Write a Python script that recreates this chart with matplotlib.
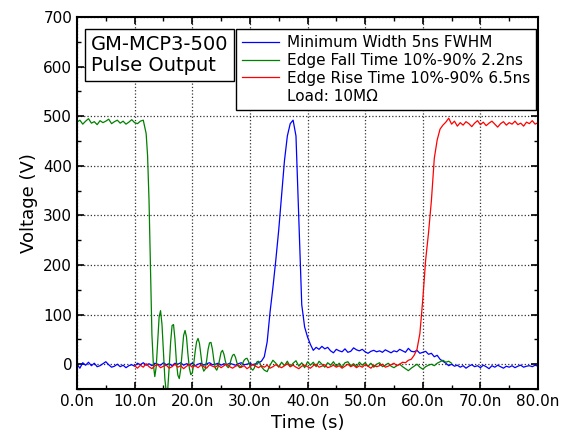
import numpy as np
import matplotlib
matplotlib.use("Agg")
import matplotlib.pyplot as plt
from matplotlib.lines import Line2D
from matplotlib.ticker import MultipleLocator, FuncFormatter

# --- data (time in ns, voltage in V) ---
# blue: minimum width pulse, sampled every 0.5 ns from 0 ns
blue_v = [0, -8, 3, -2, 4, -3, 2, -5, -3, 1, 5, -1, -6, -4, 0, -5, -2, -7, -3, -1, -4,
          2, -1, 3, -2, 1, -3, 2, 0, -2, 3, -1, 1, -3, 2, 0, 3, -2, 1, -1, 2,
          -3, 0, 2, -2, 1, 3, -1, 0, 2, -2, 1, -1, 2, 0, -2, 1, 3, -1, 0, 2,
          -1, 1, 3, 6,
          15, 45, 105, 155, 210, 270, 340, 410, 460, 485, 492, 460, 290, 120, 75, 55,
          40, 28, 34, 30, 36, 31, 34, 27, 23, 30, 27, 25, 31, 24, 26, 33, 29, 27, 30, 25,
          22, 26, 28, 25, 27, 24, 29, 26, 23, 27, 25, 30, 27, 24, 32, 26, 25, 28, 22, 24,
          26, 20, 22, 15, 18, 10, 6, 2, -3, 0,
          -4, -2, -6, -3, -8, -4, -1, -5, -3, -7, -2, -5, -9, -3, -6,
          -2, -5, -8, -4, -6, -3, -7, -4, -2, -6, -4, -3, -5, -2, -4]

# green: falling edge, plateau (0.5 ns step), ringing (0.25 ns step), tail (0.5 ns step)
green_plateau = [488, 492, 484, 490, 495, 486, 489, 483, 491, 487, 490, 494,
                 485, 489, 492, 486, 490, 484, 488, 493, 487, 485, 490, 492]
green_ring = [465, 420, 330, 190, 60, 0, -25, -5, 45, 95, 108, 80, 25, -30, -57, -50,
              -5, 45, 78, 80, 50, 5, -22, -29, -10, 25, 58, 68, 55, 20, -8, -21,
              -18, 0, 25, 45, 52, 42, 18, -5, -14, -10, 8, 30, 43, 44, 30, 8,
              -8, -12, -5, 10, 24, 28, 20, 6, -4, -7, -2, 10, 18, 20, 14, 3,
              -4, -7, -6, 2, 8, 11, 12, 6, -3, -9, -12, -8, 0, 5, 6, 2, -5]
green_tail = [-12, -15, -2, 8, 2, -6, 4, -3, 6, -5, 2, 7, -4, 3, -7, 5, -2, 4, -5, 6,
              0, -6, 3, -2, 5, -4, 2, -6, 3, 5, -3, 1, -5, 4, -2, 3, -4, 2, -6, 0,
              3, -5, -2, 2, -4, -7, -3, 0, -5, -9, -13, -8, -4, 0, -6, -10, -5, -2, 0, -3,
              2, 5, 8, 4, 6, 2]

# red: rising edge, sampled every 0.5 ns from 10 ns
red_v = [-3, -8, -2, -6, 1, -5, -9, -3, -1, -7, -4, -2, -8, -5, 0, -6, -3, -9, -4, -1,
         -6, -3, -7, -2, -5, -8, -1, -4, -6, -2, -7, -3, 0, -5, -8, -4, -2, -6, -3, -9,
         -5, -1, -4, -7, -3, -6, -2, -8, -5, -1, -4, -7, -3, 1, -5, -2, -6, -9, -4, -2,
         -5, -8, -3, 0, -6, -4, -1, -7, -5, -2, -6, -3, -8, -4, 0, -5, -2, -7, -3, -6,
         -1, -4, -8, -2, -5, -3, 0, -6, -4, -1, 2, -3, 0, 4, 3, 8,
         10, 18, 30, 62, 130, 210, 265, 330, 415, 452, 474, 482, 488, 496,
         484, 490, 480, 487, 482, 489, 485, 479, 486, 491, 483, 488, 481, 486, 490, 484,
         478, 485, 489, 482, 487, 484, 490, 483, 486, 480, 488, 485, 491, 484, 487]

labels = ["Minimum Width 5ns FWHM",
          "Edge Fall Time 10%-90% 2.2ns",
          "Edge Rise Time 10%-90% 6.5ns",
          "Load: 10M\u03a9"]

blue_t = 0.5 * np.arange(len(blue_v))
green_t = np.concatenate([0.5 * np.arange(len(green_plateau)),
                          12 + 0.25 * np.arange(len(green_ring)),
                          32.5 + 0.5 * np.arange(len(green_tail))])
green_v = green_plateau + green_ring + green_tail
red_t = 10 + 0.5 * np.arange(len(red_v))

#%%
fig = plt.figure(figsize=(5.72, 4.45), dpi=100)
ax = fig.add_axes([0.1346, 0.1258, 0.806, 0.836])

ax.plot(blue_t, blue_v, color="#0000ff", lw=0.9, label=labels[0])
ax.plot(green_t, green_v, color="#008000", lw=0.9, label=labels[1])
ax.plot(red_t, red_v, color="#ff0000", lw=0.9, label=labels[2])

ax.set_xlim(0, 80)
ax.set_ylim(-50, 700)
ax.xaxis.set_major_locator(MultipleLocator(10))
ax.xaxis.set_minor_locator(MultipleLocator(5))
ax.yaxis.set_major_locator(MultipleLocator(100))
ax.yaxis.set_minor_locator(MultipleLocator(50))
ax.xaxis.set_major_formatter(FuncFormatter(lambda v, p: f"{v:.1f}n"))

ax.tick_params(which="both", direction="in", top=True, right=True, labelsize=11)
ax.tick_params(which="major", length=5, width=1.2)
ax.tick_params(which="minor", length=3, width=1.0)
ax.grid(True, which="major", linestyle=":", color="#333333", lw=0.9)
for s in ax.spines.values():
    s.set_linewidth(1.5)

ax.set_xlabel("Time (s)", fontsize=13)
ax.set_ylabel("Voltage (V)", fontsize=13)

handles, _ = ax.get_legend_handles_labels()
handles.append(Line2D([], [], color="none"))
leg = ax.legend(handles, labels, loc="upper right", bbox_to_anchor=(0.996, 0.968),
                borderaxespad=0, fontsize=11, fancybox=False, framealpha=1,
                edgecolor="black", labelspacing=0.18, handlelength=2.4,
                handletextpad=0.5, borderpad=0.42)
leg.get_frame().set_linewidth(1.0)

ax.text(0.03, 0.952, "GM-MCP3-500\nPulse Output", transform=ax.transAxes,
        fontsize=14, va="top", ha="left", linespacing=1.15,
        bbox=dict(boxstyle="square,pad=0.3", fc="white", ec="black", lw=1.0))

fig.savefig("out.png", dpi=100)
